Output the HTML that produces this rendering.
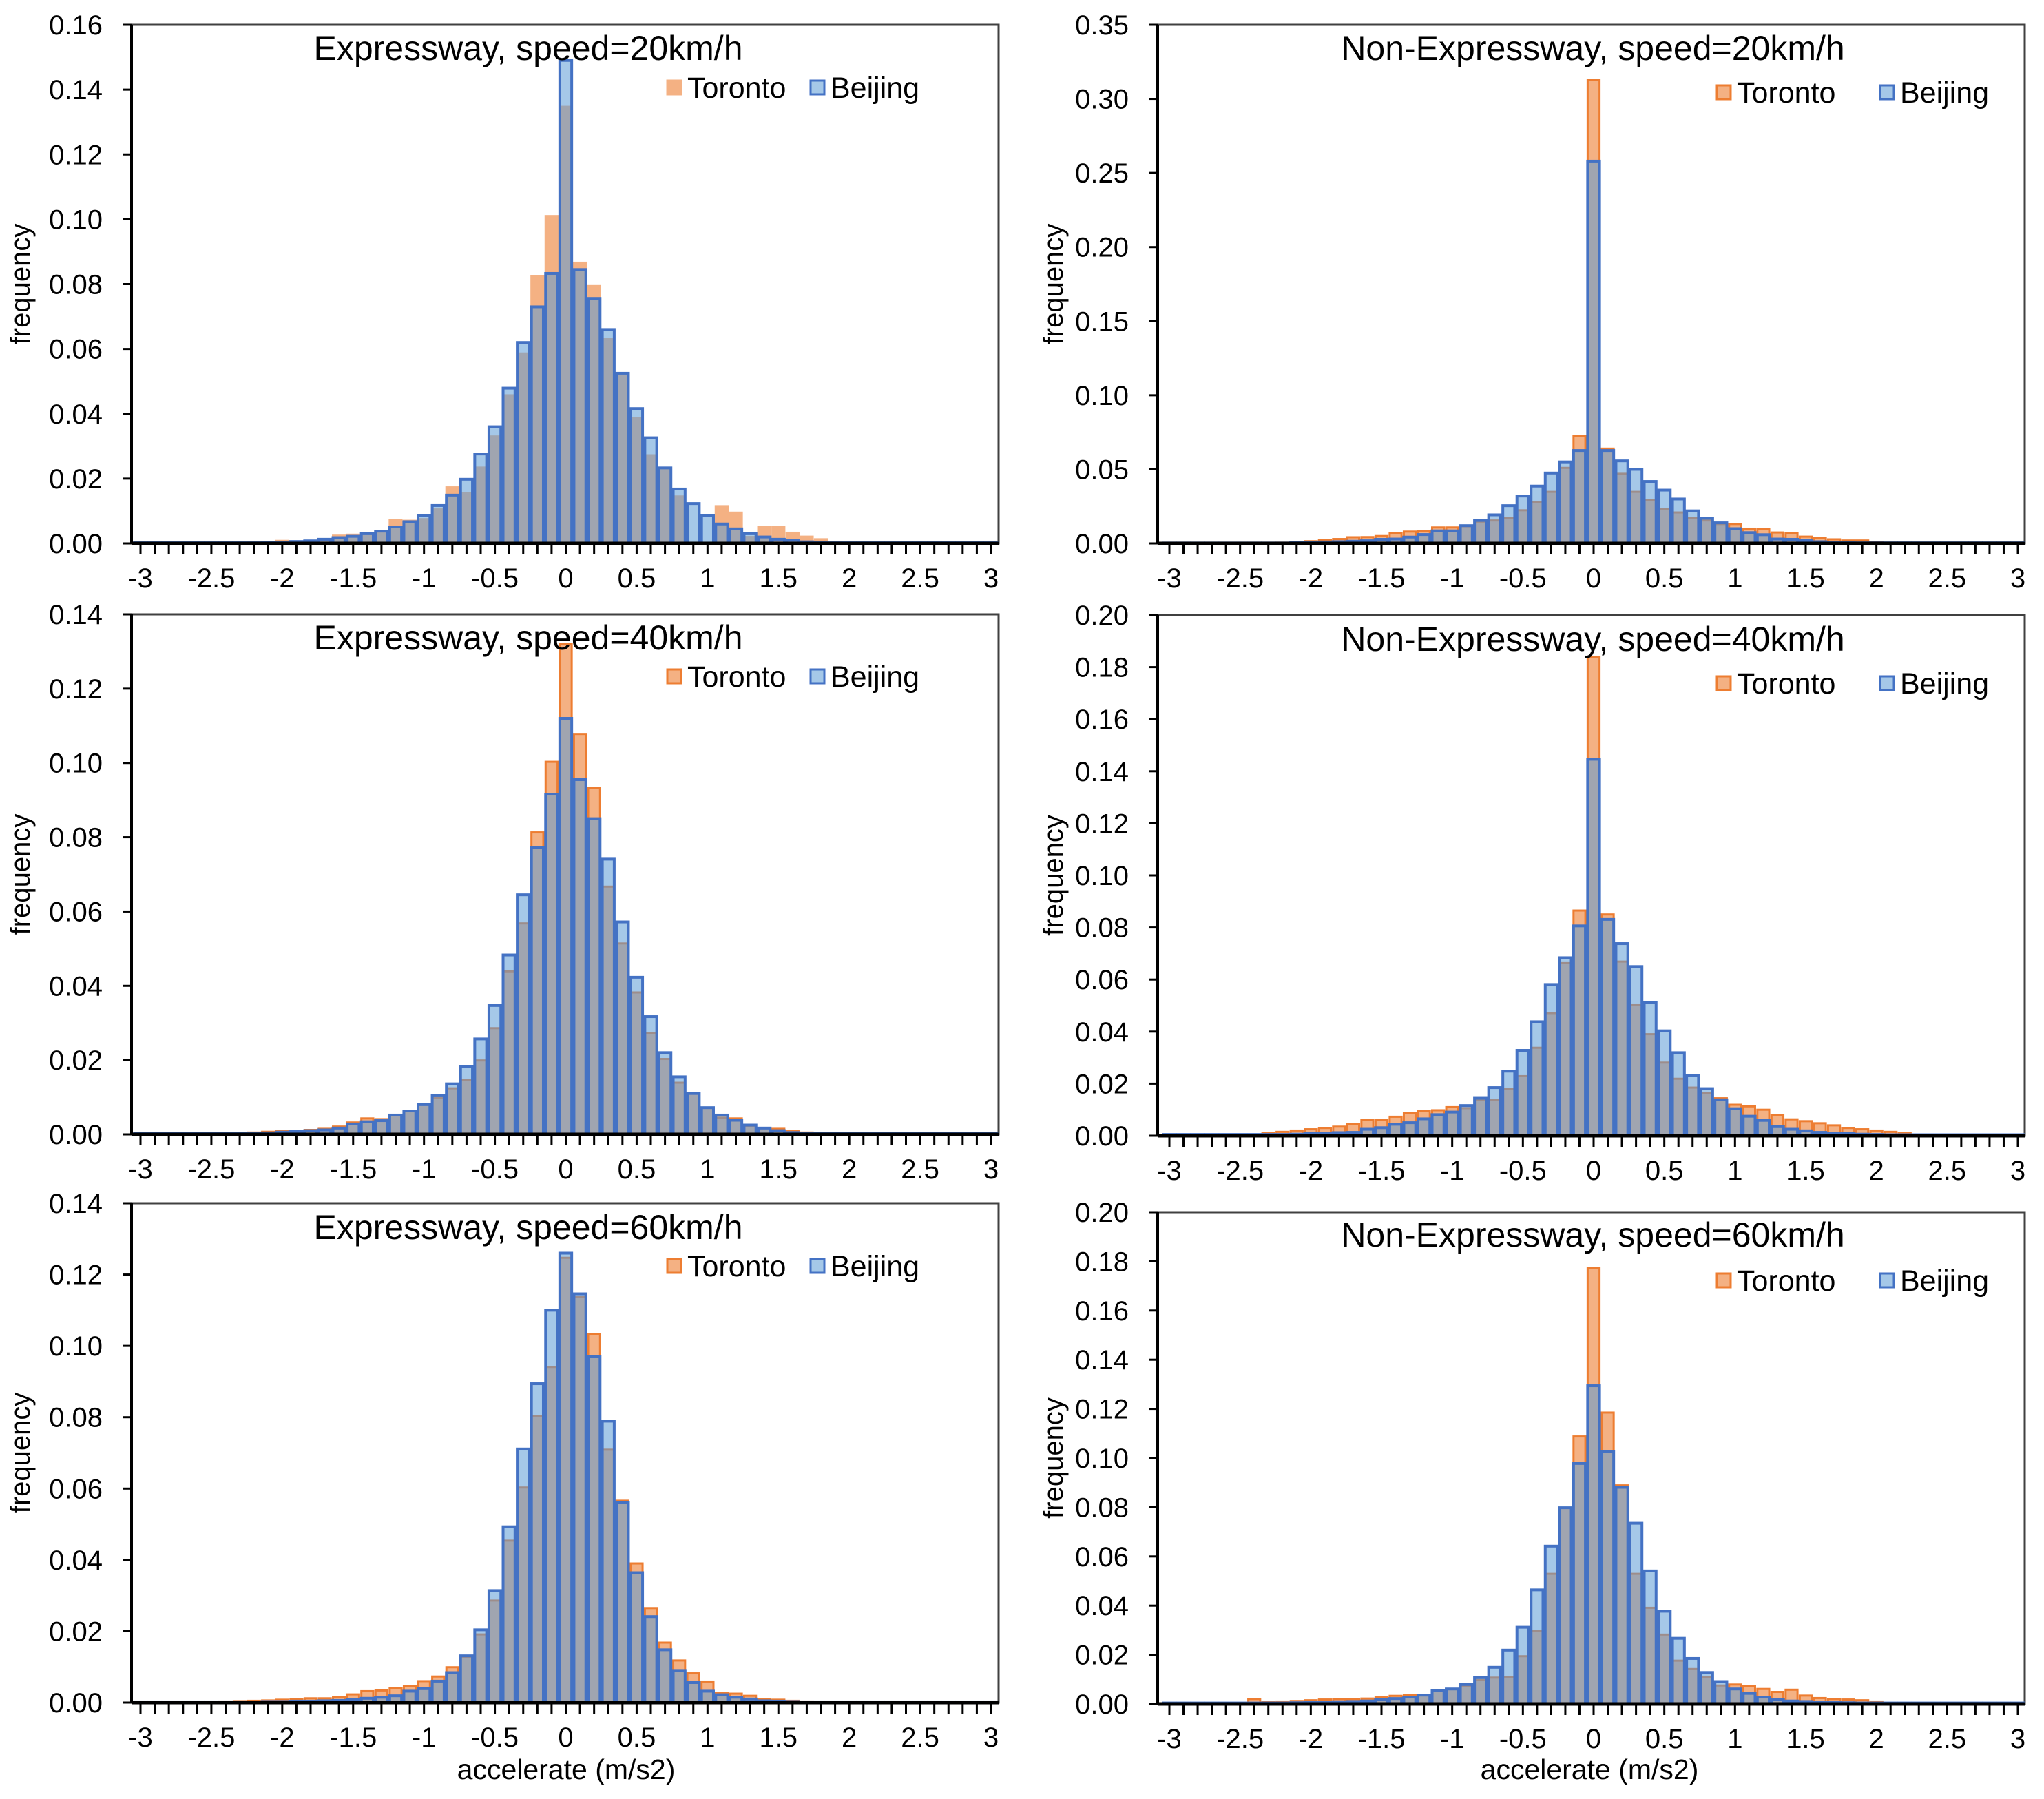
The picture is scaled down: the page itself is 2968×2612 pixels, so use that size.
<!DOCTYPE html>
<html><head><meta charset="utf-8"><style>
html,body{margin:0;padding:0;background:#fff;}
svg{display:block;font-family:"Liberation Sans",Arial,sans-serif;}
</style></head><body>
<svg id="fig" width="2968" height="2612" viewBox="0 0 2968 2612" xmlns="http://www.w3.org/2000/svg"></svg>
<script>
const xTickLabels = ["-3","-2.5","-2","-1.5","-1","-0.5","0","0.5","1","1.5","2","2.5","3"];
const xTickValues = [-3,-2.5,-2,-1.5,-1,-0.5,0,0.5,1,1.5,2,2.5,3];
const binCenters = []; for (let i=0;i<=60;i++) binCenters.push(Math.round((-3+0.1*i)*10)/10);
const titles = ["Expressway, speed=20km/h","Non-Expressway, speed=20km/h","Expressway, speed=40km/h","Non-Expressway, speed=40km/h","Expressway, speed=60km/h","Non-Expressway, speed=60km/h"];
const yMaxes = [0.16,0.35,0.14,0.20,0.14,0.20];
const ySteps = [0.02,0.05,0.02,0.02,0.02,0.02];

const beijing1 = [0.0002,0.0002,0.0002,0.0002,0.0002,0.0002,0.0002,0.0002,0.0002, 0.0003,0.0004,0.0006,0.0008,
 0.0013,0.0018,0.0022,0.003,0.0038,0.0051,0.0067,0.0085,0.0117,0.0149,0.0198,0.0276,0.036,0.0479,0.062,0.073,0.0833,
 0.149,
 0.0845,0.0756,0.066,0.0525,0.0416,0.0326,0.0233,0.0168,0.0123,0.0085,0.006,0.0045,0.003,0.002,0.0013,0.001,0.0005,0.0003,
 0.0002,0.0002,0.0002,0.0002,0.0002,0.0002,0.0002,0.0002,0.0002,0.0002,0.0002,0.0002];
const toronto1 = [0,0,0,0,0,0,0,0,0.0003, 0.0005,0.0008,0.0006,0.0008,
 0.001,0.0024,0.0027,0.0025,0.0033,0.0072,0.007,0.0075,0.0105,0.0173,0.0156,0.0234,0.033,0.0457,0.0586,0.0825,0.101,
 0.1347,
 0.0866,0.0794,0.063,0.0523,0.0386,0.0272,0.0227,0.0145,0,0,0.0115,0.0095,0.002,0.005,0.005,0.0033,0.0021,0.0013,
 0.0003,0.0002,0,0,0,0,0,0,0,0,0,0];
const beijing2 = [0.0003,0.0003,0.0003,0.0003,0.0003,0.0003,0.0003,0.0003,0.0003, 0.0005,0.0008,0.001,0.0012,
 0.0015,0.0018,0.0028,0.003,0.0043,0.006,0.0085,0.0085,0.012,0.0155,0.0193,0.0255,0.032,0.0387,0.0475,0.055,0.0627,
 0.258,
 0.0627,0.0557,0.05,0.0418,0.036,0.03,0.022,0.017,0.0139,0.01,0.0073,0.0059,0.003,0.0028,0.002,0.0012,0.0008,0.0005,
 0.0004,0.0004,0.0004,0.0004,0.0004,0.0004,0.0004,0.0004,0.0004,0.0004,0.0004,0.0004];
const toronto2 = [0,0,0,0,0,0,0,0.0003,0.0005, 0.001,0.0015,0.0023,0.003,
 0.0042,0.0043,0.005,0.007,0.008,0.0085,0.0108,0.0108,0.0116,0.0147,0.0155,0.017,0.0224,0.0279,0.0348,0.051,0.0727,
 0.313,
 0.064,0.047,0.0348,0.0294,0.0232,0.0209,0.017,0.0155,0.0131,0.0131,0.01,0.0096,0.0074,0.007,0.0046,0.0039,0.0028,0.002,
 0.002,0.001,0.0005,0,0,0,0,0,0,0,0,0];
const beijing3 = [0.0003,0.0003,0.0003,0.0003,0.0003,0.0003,0.0003,0.0003,0.0003, 0.0004,0.0006,0.0008,0.001,
 0.0012,0.0017,0.0028,0.0034,0.0037,0.0052,0.0063,0.008,0.0104,0.0136,0.0183,0.0257,0.0347,0.0483,0.0645,0.0773,0.0916,
 0.112,
 0.0955,0.085,0.0741,0.0572,0.0423,0.0317,0.022,0.0155,0.011,0.0072,0.0052,0.0038,0.0025,0.0017,0.001,0.0005,0.0003,0.0003,
 0.0002,0.0002,0.0002,0.0002,0.0002,0.0002,0.0002,0.0002,0.0002,0.0002,0.0002,0.0002];
const toronto3 = [0,0,0,0,0,0,0.0003,0.0004,0.0005, 0.0007,0.001,0.001,0.0012,
 0.0015,0.0021,0.0032,0.0043,0.0041,0.0052,0.0063,0.008,0.0098,0.0124,0.0146,0.0199,0.0286,0.0439,0.0568,0.0813,0.1003,
 0.132,
 0.1078,0.0933,0.0667,0.0514,0.0382,0.0273,0.0203,0.0139,0.011,0.0072,0.0045,0.0043,0.0022,0.0017,0.0015,0.0009,0.0005,0.0003,
 0.0002,0,0,0,0,0,0,0,0,0,0,0];
const beijing4 = [0.0005,0.0005,0.0005,0.0005,0.0005,0.0005,0.0005,0.0005,0.0005, 0.0006,0.0008,0.001,0.0012,
 0.0013,0.0025,0.0031,0.0044,0.005,0.0065,0.0081,0.0091,0.0116,0.0144,0.0185,0.0248,0.0328,0.0438,0.0581,0.0684,0.0806,
 0.1446,
 0.0831,0.0738,0.065,0.0513,0.0403,0.0319,0.0231,0.0181,0.0138,0.0104,0.0075,0.0059,0.0035,0.0025,0.0019,0.0013,0.001,0.0008,
 0.0006,0.0005,0.0004,0.0004,0.0004,0.0004,0.0004,0.0004,0.0004,0.0004,0.0004,0.0004];
const toronto4 = [0,0,0,0,0,0,0.0005,0.001,0.0015, 0.002,0.0025,0.003,0.0035,
 0.0044,0.006,0.006,0.0073,0.0088,0.0094,0.0098,0.011,0.0106,0.0138,0.0138,0.0181,0.0229,0.0338,0.0471,0.0663,0.0865,
 0.184,
 0.085,0.0669,0.0504,0.039,0.0281,0.0219,0.0185,0.0165,0.0144,0.0119,0.0113,0.01,0.0079,0.0063,0.0056,0.0048,0.004,0.003,
 0.0025,0.002,0.0015,0.001,0.0005,0,0,0,0,0,0,0];
const beijing5 = [0.0002,0.0002,0.0002,0.0002,0.0002,0.0002,0.0002,0.0002,0.0002, 0.0003,0.0003,0.0004,0.0004,
 0.0005,0.0006,0.0009,0.0012,0.0015,0.0019,0.0032,0.0039,0.006,0.0084,0.0131,0.0204,0.0314,0.0493,0.0711,0.0894,0.110,
 0.126,
 0.1146,0.097,0.0789,0.056,0.0364,0.0241,0.0148,0.009,0.0056,0.0032,0.0022,0.0015,0.001,0.0005,0.0004,0.0003,0.0002,0.0002,
 0.0002,0.0002,0.0002,0.0002,0.0002,0.0002,0.0002,0.0002,0.0002,0.0002,0.0002,0.0002];
const toronto5 = [0,0,0,0,0,0.0002,0.0003,0.0004,0.0005, 0.0006,0.0008,0.001,0.0012,
 0.0012,0.0015,0.0023,0.0032,0.0034,0.0041,0.0047,0.006,0.0073,0.0099,0.0127,0.0191,0.0286,0.0454,0.0603,0.0803,0.0941,
 0.1247,
 0.1137,0.1034,0.0709,0.0566,0.039,0.0265,0.0168,0.0118,0.0082,0.0059,0.0028,0.0025,0.0019,0.001,0.0008,0.0005,0.0003,0.0002,
 0,0,0,0,0,0,0,0,0,0,0,0];
const beijing6 = [0.0004,0.0004,0.0004,0.0004,0.0004,0.0004,0.0004,0.0004,0.0004, 0.0005,0.0006,0.0008,0.0009,
 0.001,0.0012,0.0017,0.0022,0.0028,0.0036,0.0055,0.0061,0.0079,0.0107,0.0149,0.0219,0.0312,0.0464,0.0642,0.0798,0.0978,
 0.1294,
 0.1027,0.0881,0.0735,0.0541,0.0377,0.0267,0.0185,0.0128,0.0091,0.0061,0.0043,0.0028,0.0018,0.0012,0.001,0.0008,0.0006,0.0005,
 0.0004,0.0004,0.0004,0.0004,0.0004,0.0004,0.0004,0.0004,0.0004,0.0004,0.0004,0.0004];
const toronto6 = [0,0,0,0,0,0,0.002,0.0008,0.001, 0.0012,0.0015,0.0018,0.002,
 0.002,0.0022,0.0027,0.0033,0.0036,0.0036,0.0055,0.0061,0.0073,0.0097,0.0107,0.0109,0.0194,0.0298,0.0529,0.0798,0.1088,
 0.1774,
 0.1185,0.0889,0.0529,0.0391,0.0282,0.0176,0.0142,0.0109,0.0075,0.0079,0.0073,0.0061,0.0049,0.0058,0.0034,0.0024,0.002,0.0018,
 0.0015,0.001,0,0,0,0,0,0,0,0,0,0];

const torontoSeries = [toronto1,toronto2,toronto3,toronto4,toronto5,toronto6];
const beijingSeries = [beijing1,beijing2,beijing3,beijing4,beijing5,beijing6];

const NS = "http://www.w3.org/2000/svg";
const svg = document.getElementById("fig");
function mk(tag, attrs, parent){ const e=document.createElementNS(NS,tag); for(const k in attrs) e.setAttribute(k,attrs[k]); (parent||svg).appendChild(e); return e; }

const geo = [
 [191,1450,36,789, 204,1439],
 [1681,2940,36,789, 1698,2930],
 [191,1450,892,1647, 204,1439],
 [1681,2940,893,1649, 1698,2930],
 [191,1450,1747,2472, 204,1439],
 [1681,2940,1760,2474, 1698,2930]
];
const titleY = [87,87,943,945,1799,1810];
const legendY = [127,134,982,992,1838,1859];

for (let p=0;p<6;p++){
  const [L,R,T,B,xa,xb] = geo[p];
  const isRight = p%2===1;
  const g = mk("g",{});
  
  
  const xs = v => xa + (v+3)*(xb-xa)/6;
  const ys = v => B - v/yMaxes[p]*(B-T);
  const bw = (xb-xa)/60*0.84;

  const fr = mk("rect",{x:L,y:T,width:R-L,height:B-T,fill:"none",stroke:"#404040","stroke-width":3},g);
  
  

  const tg = mk("g",{},g);
  
  
  torontoSeries[p].forEach((v,i)=>{
    if (v<=0) return;
    const y=ys(v);
    const r = mk("rect",{x:xs(binCenters[i])-bw/2,y:y,width:bw,height:B-y,fill:"#f4b183",stroke:p===0?"#f4b183":"#ed7d31","stroke-width":3},tg);
    
    
  });
  const bg = mk("g",{},g);
  
  
  beijingSeries[p].forEach((v,i)=>{
    if (v<=0) return;
    const y=ys(v);
    const r = mk("rect",{x:xs(binCenters[i])-bw/2,y:y,width:bw,height:B-y,fill:"rgba(91,155,213,0.55)",stroke:"#4472c4","stroke-width":4},bg);
    
    
  });

  const xa_ = mk("line",{x1:L,y1:B,x2:R,y2:B,stroke:"#000","stroke-width":5},g);
  
  
  binCenters.forEach(v=>{
    const t = mk("line",{x1:xs(v),y1:B,x2:xs(v),y2:B+16,stroke:"#000","stroke-width":3},g);
    
    
  });
  xTickValues.forEach((v,i)=>{
    const t = mk("text",{x:xs(v),y:B+64,"font-size":40,"text-anchor":"middle",fill:"#000"},g);
    t.textContent = xTickLabels[i];
    
    
  });
  const ya = mk("line",{x1:L,y1:T,x2:L,y2:B,stroke:"#000","stroke-width":4},g);
  
  
  const n = Math.round(yMaxes[p]/ySteps[p]);
  for (let k=0;k<=n;k++){
    const v = k*ySteps[p];
    const tk = mk("line",{x1:L-12,y1:ys(v),x2:L,y2:ys(v),stroke:"#000","stroke-width":3},g);
    
    
    const t = mk("text",{x:L-42,y:ys(v)+14,"font-size":40,"text-anchor":"end",fill:"#000"},g);
    t.textContent = v.toFixed(2);
    
    
  }
  const cy = (T+B)/2, cx = isRight?1543:43;
  const yt = mk("text",{x:cx,y:cy,"font-size":40,"text-anchor":"middle",fill:"#000",transform:`rotate(-90 ${cx} ${cy})`},g);
  yt.textContent = "frequency";
  
  
  const tt = mk("text",{x:isRight?2313:767,y:titleY[p],"font-size":50,"text-anchor":"middle",fill:"#000"},g);
  tt.textContent = titles[p];
  
  
  const ly = legendY[p];
  const tx = isRight?2493:969, bx = isRight?2730:1177;
  const lg = mk("g",{},g);
  
  
  const m1 = mk("rect",{x:tx,y:ly-10,width:20,height:20,fill:"#f4b183",stroke:p===0?"#f4b183":"#ed7d31","stroke-width":3},lg);
  
  
  const l1 = mk("text",{x:tx+29,y:ly+15,"font-size":43,fill:"#000"},lg);
  l1.textContent = "Toronto";
  
  
  const m2 = mk("rect",{x:bx,y:ly-10,width:20,height:20,fill:"rgba(91,155,213,0.55)",stroke:"#4472c4","stroke-width":3},lg);
  
  
  const l2 = mk("text",{x:bx+29,y:ly+15,"font-size":43,fill:"#000"},lg);
  l2.textContent = "Beijing";
  
  
}
[[822],[2308]].forEach(([x])=>{
  const t = mk("text",{x:x,y:2583,"font-size":41,"text-anchor":"middle",fill:"#000"});
  t.textContent = "accelerate (m/s2)";
  
  
});
</script>
</body></html>
